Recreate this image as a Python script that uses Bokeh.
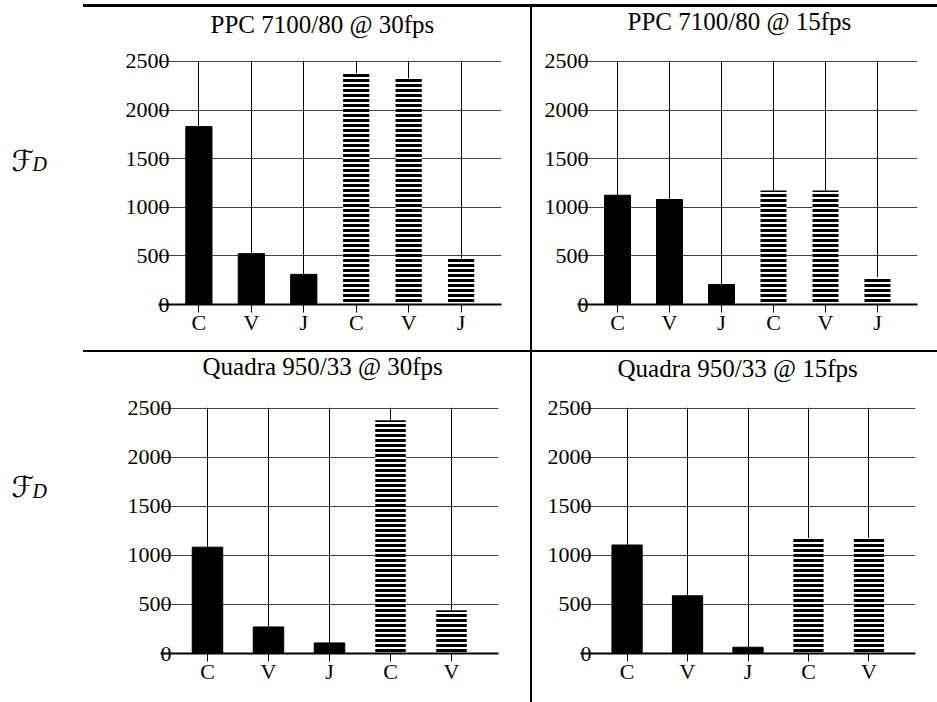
from bokeh.plotting import figure
from bokeh.models import Range1d, FixedTicker, Label, Div, Spacer, Title
from bokeh.layouts import column, row
from bokeh.embed import file_html
from bokeh.resources import INLINE

FONT = "Liberation Serif"

# ---- data ----
titles = ["PPC 7100/80 @ 30fps", "PPC 7100/80 @ 15fps",
          "Quadra 950/33 @ 30fps", "Quadra 950/33 @ 15fps"]

ppc30_solid_labels = ["C", "V", "J"]
ppc30_solid = [1830, 523, 310]
ppc30_hatched_labels = ["C", "V", "J"]
ppc30_hatched = [2378, 2328, 475]

ppc15_solid_labels = ["C", "V", "J"]
ppc15_solid = [1124, 1080, 205]
ppc15_hatched_labels = ["C", "V", "J"]
ppc15_hatched = [1173, 1173, 284]

quad30_solid_labels = ["C", "V", "J"]
quad30_solid = [1085, 271, 108]
quad30_hatched_labels = ["C", "V"]
quad30_hatched = [2381, 441]

quad15_solid_labels = ["C", "V", "J"]
quad15_solid = [1107, 589, 64]
quad15_hatched_labels = ["C", "V"]
quad15_hatched = [1178, 1178]

y_ticks = [0, 500, 1000, 1500, 2000, 2500]
y_label = "ℱ"
y_label_sub = "D"


def panel(title, s_lab, s_val, h_lab, h_val, width, height,
          left, right, top, bottom, title_offset):
    ns, nh = len(s_val), len(h_val)
    n = ns + nh
    xs_s = list(range(ns))
    xs_h = [ns + i for i in range(nh)]
    xs = xs_s + xs_h
    labels = s_lab + h_lab
    p = figure(width=width, height=height,
               x_range=Range1d(-0.77, n - 1 + 0.77),
               y_range=Range1d(0, 2510),
               output_backend="svg", toolbar_location=None,
               min_border_left=left, min_border_right=right,
               min_border_top=top, min_border_bottom=bottom,
               title=title)
    p.outline_line_color = None
    p.background_fill_color = "white"
    p.border_fill_color = "white"

    p.vbar(x=xs_s, top=s_val, width=0.5, fill_color="black",
           line_color="black", line_width=1)
    p.vbar(x=xs_h, top=h_val, width=0.5, fill_color="white",
           line_color=None, hatch_pattern="horizontal_line",
           hatch_color="black", hatch_scale=5, hatch_weight=3)

    # blank gap between the title and the plot frame
    p.add_layout(Title(text=" ", text_font_size="1px", standoff=top - 27),
                 "above")

    p.title.text_font = FONT
    p.title.text_font_size = "25px"
    p.title.text_font_style = "normal"
    p.title.text_color = "black"
    p.title.align = "left"
    p.title.offset = title_offset
    p.title.vertical_align = "top"
    p.title.standoff = -10

    p.xgrid.ticker = FixedTicker(ticks=xs)
    p.xgrid.grid_line_color = "black"
    p.xgrid.grid_line_width = 1
    p.ygrid.ticker = FixedTicker(ticks=y_ticks)
    p.ygrid.grid_line_color = "#444444"
    p.ygrid.grid_line_width = 1

    xa = p.xaxis[0]
    xa.ticker = FixedTicker(ticks=xs)
    xa.major_label_overrides = {x: l for x, l in zip(xs, labels)}
    xa.axis_line_width = 2
    xa.axis_line_color = "black"
    xa.major_tick_out = 8
    xa.major_tick_in = 0
    xa.major_tick_line_color = "black"
    xa.minor_tick_line_color = None
    xa.major_label_standoff = -3
    xa.major_label_text_font = FONT
    xa.major_label_text_font_size = "22px"
    xa.major_label_text_color = "black"

    ya = p.yaxis[0]
    ya.ticker = FixedTicker(ticks=y_ticks)
    ya.axis_line_color = None
    ya.major_tick_line_color = None
    ya.minor_tick_line_color = None
    ya.major_label_text_font = FONT
    ya.major_label_text_font_size = "22px"
    ya.major_label_text_color = "black"
    ya.major_label_standoff = -17
    return p


def fd_panel(height, f_y, d_y):
    f = figure(width=83, height=height, x_range=Range1d(0, 83),
               y_range=Range1d(0, height), output_backend="svg",
               toolbar_location=None, min_border=0,
               x_axis_type=None, y_axis_type=None)
    f.grid.visible = False
    f.outline_line_color = None
    f.add_layout(Label(x=11, y=f_y, x_units="screen", y_units="screen",
                       text=y_label, text_font="DejaVu Serif, DejaVu Sans",
                       text_font_size="29px", text_font_style="italic",
                       text_baseline="alphabetic", text_color="black"))
    f.add_layout(Label(x=32, y=d_y, x_units="screen", y_units="screen",
                       text=y_label_sub, text_font=FONT,
                       text_font_size="20px", text_font_style="italic",
                       text_baseline="alphabetic", text_color="black"))
    return f


tl = panel(titles[0], ppc30_solid_labels, ppc30_solid, ppc30_hatched_labels,
           ppc30_hatched, 447, 343, 75, 29, 50, 45, 52)
tr = panel(titles[1], ppc15_solid_labels, ppc15_solid, ppc15_hatched_labels,
           ppc15_hatched, 405, 343, 45, 20, 53, 46, 50)
bl = panel(titles[2], quad30_solid_labels, quad30_solid, quad30_hatched_labels,
           quad30_hatched, 447, 350, 77, 32, 55, 49, 42)
br = panel(titles[3], quad15_solid_labels, quad15_solid, quad15_hatched_labels,
           quad15_hatched, 405, 350, 48, 22, 53, 48, 37)


def hline(w, h):
    return Div(text="", width=w, height=h, margin=0,
               styles={"background-color": "black"})


def vline(h):
    return Div(text="", width=2, height=h, margin=0,
               styles={"background-color": "black"})


layout = column(
    Spacer(width=937, height=4, margin=0),
    row(Spacer(width=83, height=3, margin=0), hline(854, 3), spacing=0),
    row(fd_panel(343, 144, 141), tl, vline(343), tr, spacing=0),
    row(Spacer(width=83, height=2, margin=0), hline(854, 2), spacing=0),
    row(fd_panel(350, 167, 163), bl, vline(350), br, spacing=0),
    spacing=0,
)

open("out.html", "w").write(file_html(layout, INLINE))
